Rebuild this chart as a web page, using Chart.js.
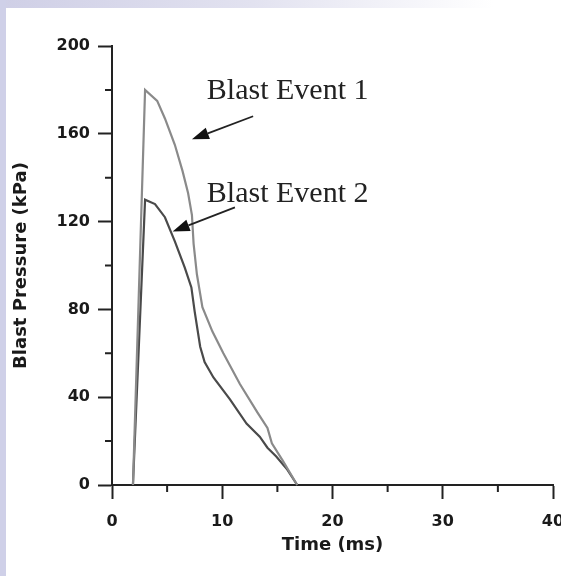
<!DOCTYPE html>
<html>
<head>
<meta charset="utf-8">
<script src="https://cdn.jsdelivr.net/npm/chart.js@4"></script>
<style>
  html, body { margin: 0; padding: 0; background: #fff; }
  #wrap { position: relative; width: 561px; height: 576px; overflow: hidden; }
  #topband { position: absolute; left: 0; top: 0; width: 561px; height: 8px;
    background: linear-gradient(to right, #cfcfe6 0%, #e2e2f0 45%, #ffffff 88%); }
  #leftband { position: absolute; left: 0; top: 0; width: 6px; height: 576px; background: #cfd0e8; }
  canvas { position: absolute; left: 0; top: 0; }
</style>
</head>
<body>
<div id="wrap">
  <div id="topband"></div>
  <div id="leftband"></div>
  <canvas id="blastChart" width="561" height="576"></canvas>
</div>
<script>
// Blast Event 1 (lighter curve)
const time1 = [1.9, 3.0, 4.1, 4.8, 5.7, 6.4, 6.9, 7.25, 7.4, 7.7, 8.2, 9.1, 10.1, 11.6, 13.2, 14.1, 14.5, 15.5, 16.8];
const pressure1 = [0, 180, 175, 167, 155, 143, 133, 123, 110, 96, 81, 70, 60, 46, 33, 26, 19, 11, 0];

// Blast Event 2 (darker curve)
const time2 = [1.9, 3.0, 3.9, 4.8, 5.7, 6.6, 7.2, 7.5, 8.0, 8.4, 9.2, 10.7, 12.2, 13.4, 14.1, 14.9, 15.9, 16.8];
const pressure2 = [0, 130, 128, 122, 111, 99, 90, 79, 63, 56, 49, 39, 28, 22, 17, 13, 7, 0];

const xTicks = [0, 10, 20, 30, 40];
const yTicks = [0, 40, 80, 120, 160, 200];
const xMinor = [5, 15, 25, 35];
const yMinor = [20, 60, 100, 140, 180];

// label text, anchor [time, kPa], arrow from/to [time, kPa]
const notes = [
  { text: 'Blast Event 1', at: [8.6, 176], from: [12.8, 168], to: [7.25, 157.5] },
  { text: 'Blast Event 2', at: [8.6, 129], from: [11.15, 126.5], to: [5.5, 115.5] }
];

const axisColor = '#222';
const tickFont = { family: 'DejaVu Sans', size: 16, weight: 'bold' };
const titleFont = { family: 'DejaVu Sans', size: 18, weight: 'bold', lineHeight: 1.2 };

const minorTicks = {
  id: 'minorTicks',
  afterDraw(chart) {
    const { ctx, chartArea, scales } = chart;
    ctx.save();
    ctx.strokeStyle = axisColor;
    ctx.lineWidth = 2;
    ctx.beginPath();
    xMinor.forEach(v => {
      const px = scales.x.getPixelForValue(v);
      ctx.moveTo(px, chartArea.bottom);
      ctx.lineTo(px, chartArea.bottom + 7);
    });
    yMinor.forEach(v => {
      const py = scales.y.getPixelForValue(v);
      ctx.moveTo(chartArea.left - 7, py);
      ctx.lineTo(chartArea.left, py);
    });
    ctx.stroke();
    ctx.restore();
  }
};

const arrowNotes = {
  id: 'arrowNotes',
  afterDatasetsDraw(chart) {
    const { ctx, scales } = chart;
    const X = v => scales.x.getPixelForValue(v);
    const Y = v => scales.y.getPixelForValue(v);
    ctx.save();
    notes.forEach(n => {
      ctx.font = '30px "Liberation Serif", "Times New Roman", serif';
      ctx.fillStyle = '#222';
      ctx.textBaseline = 'alphabetic';
      ctx.fillText(n.text, X(n.at[0]), Y(n.at[1]));

      const x1 = X(n.from[0]), y1 = Y(n.from[1]);
      const x2 = X(n.to[0]), y2 = Y(n.to[1]);
      const ang = Math.atan2(y2 - y1, x2 - x1);
      const headLen = 17, headW = 6;
      const bx = x2 - headLen * Math.cos(ang), by = y2 - headLen * Math.sin(ang);
      ctx.strokeStyle = '#222';
      ctx.lineWidth = 1.8;
      ctx.beginPath();
      ctx.moveTo(x1, y1);
      ctx.lineTo(bx, by);
      ctx.stroke();
      ctx.fillStyle = '#111';
      ctx.beginPath();
      ctx.moveTo(x2, y2);
      ctx.lineTo(bx + headW * Math.sin(ang), by - headW * Math.cos(ang));
      ctx.lineTo(bx - headW * Math.sin(ang), by + headW * Math.cos(ang));
      ctx.closePath();
      ctx.fill();
    });
    ctx.restore();
  }
};

new Chart(document.getElementById('blastChart'), {
  type: 'scatter',
  data: {
    datasets: [{
      label: 'Blast Event 1',
      data: time1.map((t, i) => ({ x: t, y: pressure1[i] })),
      showLine: true,
      borderColor: '#8a8a8a',
      borderWidth: 2.2,
      pointRadius: 0,
      tension: 0,
      fill: false,
      clip: false
    }, {
      label: 'Blast Event 2',
      data: time2.map((t, i) => ({ x: t, y: pressure2[i] })),
      showLine: true,
      borderColor: '#4a4a4a',
      borderWidth: 2.2,
      pointRadius: 0,
      tension: 0,
      fill: false,
      clip: false
    }]
  },
  options: {
    responsive: false,
    animation: false,
    layout: { padding: { left: 0, top: 46, right: 8, bottom: 0 } },
    plugins: { legend: { display: false }, tooltip: { enabled: false } },
    scales: {
      x: {
        type: 'linear',
        min: 0,
        max: 40,
        afterFit(scale) { scale.height = 91; scale.paddingLeft = 0; scale.paddingRight = 0; },
        afterBuildTicks(scale) { scale.ticks = xTicks.map(v => ({ value: v })); },
        ticks: { font: tickFont, color: '#1a1a1a', padding: 13, maxRotation: 0 },
        grid: { drawOnChartArea: false, drawTicks: true, tickLength: 14, tickWidth: 2, tickColor: axisColor },
        border: { display: true, color: axisColor, width: 2 },
        title: { display: true, text: 'Time (ms)', font: titleFont, color: '#1a1a1a', padding: { top: 0, bottom: 20 } }
      },
      y: {
        type: 'linear',
        min: 0,
        max: 200,
        afterFit(scale) { scale.width = 112; scale.paddingTop = 0; scale.paddingBottom = 0; },
        afterBuildTicks(scale) { scale.ticks = yTicks.map(v => ({ value: v })); },
        ticks: { font: tickFont, color: '#1a1a1a', padding: 8 },
        grid: { drawOnChartArea: false, drawTicks: true, tickLength: 14, tickWidth: 2, tickColor: axisColor },
        border: { display: true, color: axisColor, width: 2 },
        title: { display: true, text: 'Blast Pressure (kPa)', font: titleFont, color: '#1a1a1a', padding: { top: 11, bottom: 0 } }
      }
    }
  },
  plugins: [minorTicks, arrowNotes]
});
</script>
</body>
</html>
